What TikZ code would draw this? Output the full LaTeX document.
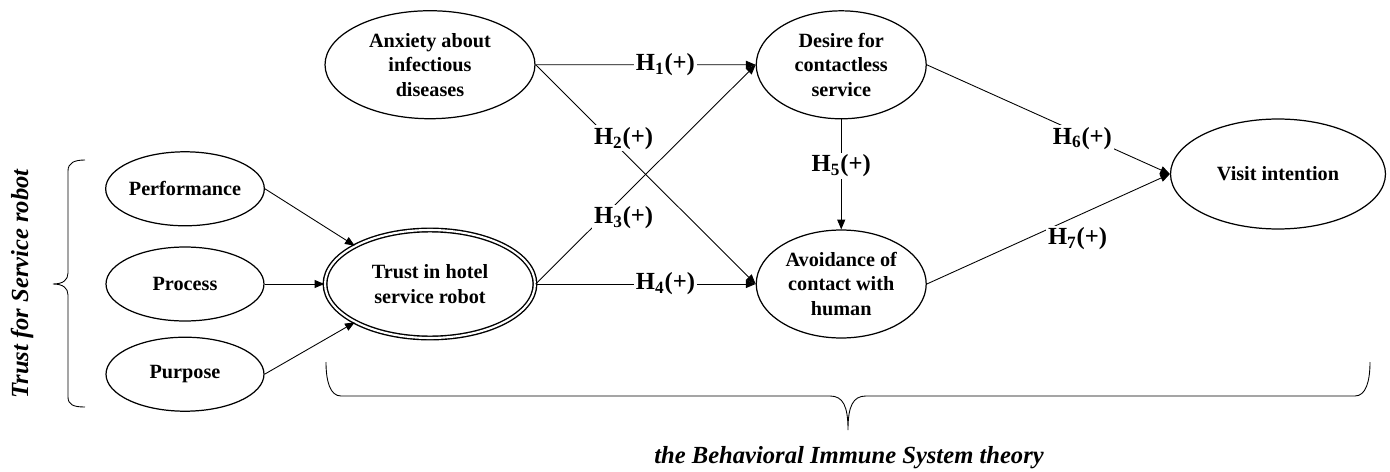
\documentclass[tikz,border=0pt]{standalone}
\usepackage{fontspec}
\setmainfont{Liberation Serif}
\usepackage{tikz}
\usetikzlibrary{positioning,arrows.meta,shapes.geometric}

\begin{document}
\begin{tikzpicture}[
      x=0.02cm, y=0.02cm,
      font=\fontsize{11.5}{14}\selectfont\bfseries,
      latent/.style={ellipse, draw, line width=0.7pt, inner sep=0pt, align=center, minimum width=3.4cm, minimum height=2.16cm},
      wide/.style={latent, minimum width=4.2cm},
      dim/.style={latent, minimum width=3.16cm, minimum height=1.48cm},
      arrow/.style={-{Triangle[length=5.5pt, width=4.5pt]}, line width=0.5pt},
      hyp/.style={fill=white, inner sep=1pt, font=\fontsize{14}{16}\selectfont\bfseries},
      brace/.style={line width=0.5pt},
      theory/.style={font=\fontsize{14}{16}\selectfont\bfseries\itshape}
  ]
  \useasboundingbox (0,0) rectangle (1390,471);
  % Nodes
  \node[wide, double, double distance=1.2pt, line width=0.8pt] (trust) at (430,187) {Trust in hotel\\service robot};
  \node[wide, above=2.2cm of trust] (anx) {Anxiety about\\infectious\\diseases};
  \node[latent, right=4.4cm of trust] (avoid) {Avoidance of\\contact with\\human};
  \node[latent, above=2.2cm of avoid] (desire) {Desire for\\contactless\\service};
  \node[latent, minimum width=4.3cm, minimum height=2.2cm] (visit) at (1278,297) {Visit intention};
  \node[dim] (proc) at (185,187) {Process};
  \node[dim, above=0.4cm of proc] (perf) {Performance};
  \node[dim, below=0.3cm of proc] (purp) {Purpose};
  % Trust dimensions
  \draw[arrow] (perf.east) -- (trust.153);
  \draw[arrow] (proc) -- (trust);
  \draw[arrow] (purp.east) -- (trust.207);
  % Hypotheses
  \draw[arrow] (anx) -- node[hyp, pos=0.59] (h1) {H\textsubscript{1}(+)} (desire);
  \draw[arrow] (anx.east) -- node[hyp, pos=0.4, yshift=8pt] (h2) {H\textsubscript{2}(+)} (avoid.west);
  \draw[arrow] (trust.east) -- node[hyp, pos=0.4, yshift=-12pt] (h3) {H\textsubscript{3}(+)} (desire.west);
  \draw[arrow] (trust) -- node[hyp, pos=0.59] (h4) {H\textsubscript{4}(+)} (avoid);
  \draw[arrow] (desire) -- node[hyp, pos=0.42] (h5) {H\textsubscript{5}(+)} (avoid);
  \draw[arrow] (desire.east) -- node[hyp, pos=0.64, yshift=-2pt] (h6) {H\textsubscript{6}(+)} (visit.west);
  \draw[arrow] (avoid.east) -- node[hyp, pos=0.62, yshift=-13pt] (h7) {H\textsubscript{7}(+)} (visit.west);
  % Braces
  \draw[brace] (85,311) .. controls (74,311) and (68,308) .. (68,300) -- (68,198)
    .. controls (68,191) and (63,187) .. (53,187) .. controls (63,187) and (68,183) .. (68,176)
    -- (68,74) .. controls (68,66) and (74,64) .. (85,64);
  \draw[brace] (326,109) .. controls (326,90) and (330,75) .. (341,75) -- (830,75)
    .. controls (843,75) and (848,65) .. (848,41) .. controls (848,65) and (853,75) .. (866,75)
    -- (1355,75) .. controls (1366,75) and (1370,90) .. (1370,109);
  \node[theory, rotate=90] (tsr) at (22,187) {Trust for Service robot};
  \node[theory] (bist) at (849,13) {the Behavioral Immune System theory};
\end{tikzpicture}
\end{document}
